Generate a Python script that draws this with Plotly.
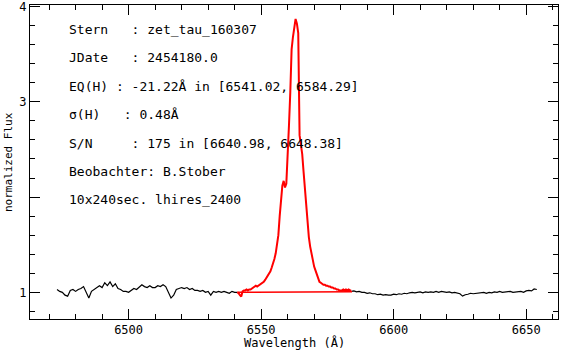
import plotly.graph_objects as go

# ---- data ----
black_left_wl = list(range(6473, 6542))
black_left_flux = [1.03, 1.01, 1.00, 0.97, 0.96, 1.02, 1.03, 1.01, 1.03, 1.04,
                   1.06, 1.00, 0.94, 1.01, 1.03, 1.05, 1.07, 1.05, 1.10, 1.07,
                   1.11, 1.06, 1.09, 1.04, 1.03, 1.01, 1.01, 1.00, 1.02, 1.04,
                   1.03, 1.06, 1.08, 1.06, 1.05, 1.07, 1.05, 1.05, 1.07, 1.06,
                   1.08, 1.06, 1.00, 0.94, 0.97, 1.03, 1.04, 1.05, 1.04, 1.05,
                   1.03, 1.04, 1.02, 1.02, 1.01, 1.02, 1.00, 1.01, 0.97, 1.01,
                   1.00, 1.01, 1.00, 1.01, 1.00, 0.99, 1.01, 1.00, 1.00]

black_right_wl = list(range(6584, 6655))
black_right_flux = [1.01, 1.015, 1.005, 1.01, 1.0, 1.0, 0.99, 0.995, 0.985, 0.985,
                    0.975, 0.98, 0.97, 0.975, 0.97, 0.97, 0.98, 0.975, 0.985, 0.98,
                    0.99, 0.985, 0.995, 1.0, 0.995, 1.0, 1.005, 0.995, 1.005, 1.0,
                    1.005, 1.0, 1.01, 1.0, 1.01, 1.005, 1.0, 1.005, 0.995, 1.0,
                    0.99, 0.985, 0.96, 0.975, 0.98, 0.99, 0.985, 0.99, 0.99, 0.995,
                    1.0, 0.99, 1.0, 0.995, 1.005, 1.0, 1.01, 1.0, 1.005, 1.005,
                    1.01, 1.0, 1.005, 1.005, 1.01, 1.0, 1.015, 1.02, 1.015, 1.035,
                    1.03]

red_wl = [6541.0 + 0.5 * i for i in range(87)]
red_flux = [1.00, 0.99, 0.97, 0.955, 1.01, 1.02, 1.02, 1.03, 1.02, 1.03,
            1.03, 1.04, 1.05, 1.06, 1.07, 1.06, 1.07, 1.08,
            1.09, 1.10, 1.11, 1.13, 1.15, 1.17, 1.19, 1.22, 1.26, 1.30,
            1.35, 1.41, 1.49, 1.60, 1.80, 1.98, 2.12, 2.17, 2.10, 2.14,
            2.40, 2.75, 3.10, 3.55, 3.68, 3.80, 3.87, 3.82, 3.72, 2.65,
            2.55, 2.45, 2.27, 2.08, 1.90, 1.72, 1.58, 1.48, 1.40, 1.32,
            1.27, 1.23, 1.19, 1.15, 1.11, 1.10, 1.09, 1.08, 1.08, 1.07,
            1.07, 1.06, 1.06, 1.05, 1.05, 1.04, 1.04, 1.03, 1.03, 1.02,
            1.02, 1.02, 1.03, 1.02, 1.03, 1.02, 1.03, 1.02, 1.02]

cont_wl = [6541.02, 6560.3, 6560.3, 6584.29]
cont_flux = [1.0, 1.0, 1.007, 1.007]

info_lines = [
    "Stern   : zet_tau_160307",
    "JDate   : 2454180.0",
    "EQ(H) : -21.22Å in [6541.02, 6584.29]",
    "σ(H)   : 0.48Å",
    "S/N     : 175 in [6640.98, 6648.38]",
    "Beobachter: B.Stober",
    "10x240sec. lhires_2400",
]
info_y = [3.76, 3.46, 3.16, 2.87, 2.56, 2.27, 1.97]
info_x = 6476.6

x_ticks = [6500, 6550, 6600, 6650]
y_ticks = [1, 2, 3, 4]
y_ticktext = ["1", "", "3", "4"]
x_title = "Wavelength (Å)"
y_title = "normalized Flux"

FONT = "DejaVu Sans Mono"

fig = go.Figure()
fig.add_trace(go.Scatter(x=black_left_wl, y=black_left_flux, mode="lines",
                         line=dict(color="black", width=1.2), hoverinfo="skip"))
fig.add_trace(go.Scatter(x=black_right_wl, y=black_right_flux, mode="lines",
                         line=dict(color="black", width=1.2), hoverinfo="skip"))
fig.add_trace(go.Scatter(x=cont_wl, y=cont_flux, mode="lines",
                         line=dict(color="#ff0000", width=1.5), hoverinfo="skip"))
fig.add_trace(go.Scatter(x=red_wl, y=red_flux, mode="lines",
                         line=dict(color="#ff0000", width=2), hoverinfo="skip"))

for txt, yy in zip(info_lines, info_y):
    fig.add_annotation(x=info_x, y=yy, xref="x", yref="y", text=txt.replace(" ", "\u00a0"),
                       showarrow=False, xanchor="left", yanchor="middle",
                       font=dict(family=FONT, size=13, color="black"))

# axis titles placed in pixel-accurate positions (paper coords)
fig.add_annotation(x=0.5, y=0, xref="paper", yref="paper", yshift=-23,
                   text=x_title, showarrow=False, xanchor="center", yanchor="middle",
                   font=dict(family=FONT, size=12, color="black"))
fig.add_annotation(x=0, y=0.5, xref="paper", yref="paper", xshift=-22,
                   text=y_title, showarrow=False, textangle=-90,
                   xanchor="center", yanchor="middle",
                   font=dict(family=FONT, size=11, color="black"))

axis_common = dict(showgrid=False, zeroline=False, showline=True, linecolor="black",
                   linewidth=1, mirror="ticks", ticks="inside", ticklen=10,
                   tickcolor="black", tickwidth=1, ticklabeloverflow="allow",
                   automargin=False,
                   tickfont=dict(family=FONT, size=12, color="black"))

fig.update_xaxes(range=[6462.8, 6662.0], tickvals=x_ticks,
                 minor=dict(dtick=10, ticks="inside", ticklen=5, tickcolor="black"),
                 **axis_common)
fig.update_yaxes(range=[0.72, 4.016], tickvals=y_ticks, ticktext=y_ticktext,
                 minor=dict(dtick=0.2, ticks="inside", ticklen=5, tickcolor="black"),
                 **axis_common)

fig.update_layout(width=563, height=351, margin=dict(l=30, r=5, t=5, b=32),
                  plot_bgcolor="white", paper_bgcolor="white", showlegend=False)

fig.write_html("out.html")
